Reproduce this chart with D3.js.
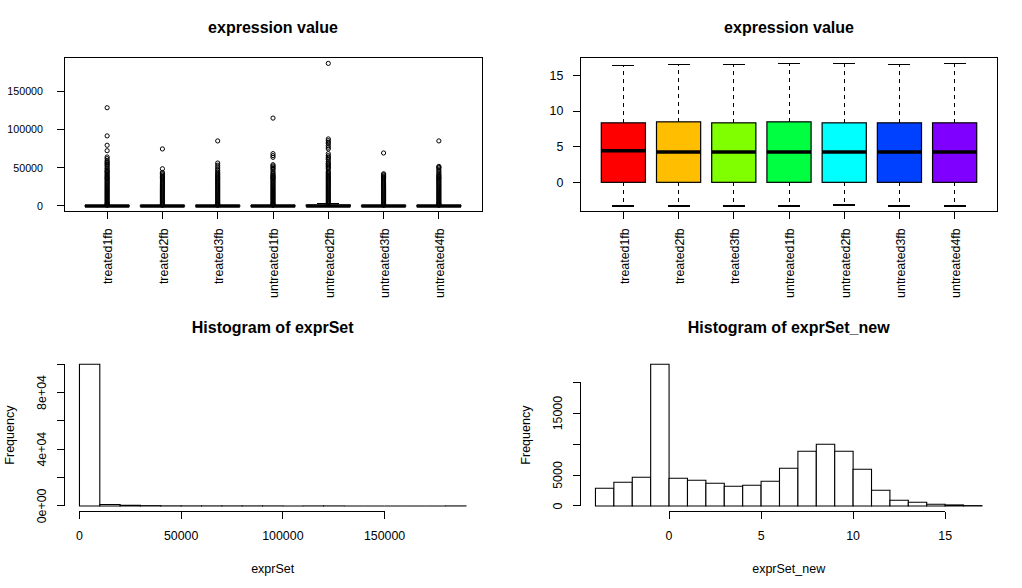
<!DOCTYPE html>
<html><head><meta charset="utf-8">
<script src="https://cdn.jsdelivr.net/npm/d3@7"></script>
<style>
body{margin:0;background:#fff}
svg{display:block}
text{font-family:"Liberation Sans",Arial,Helvetica,sans-serif;fill:#000}
</style>
</head><body>
<svg id="c" width="1022" height="588"></svg>
<script>
// ---------------- data ----------------
const sampleNames = ["treated1fb","treated2fb","treated3fb","untreated1fb","untreated2fb","untreated3fb","untreated4fb"];
const boxColors = ["#FF0000","#FFBF00","#80FF00","#00FF40","#00FFFF","#0040FF","#8000FF"];

// raw expression boxplot statistics
const rawLower  = [0.1, 0.1, 0.1, 0.1, 0.1, 0.1, 0.1];
const rawQ1     = [1, 1, 1, 1, 1.2, 1, 1];
const rawMedian = [19, 18, 18, 18, 20, 18, 18];
const rawQ3     = [330, 320, 325, 330, 1100, 320, 325];
const rawUpper  = [820, 800, 810, 820, 2750, 800, 810];
// dense outlier column shared by all samples
const rawDenseOutliers = [3000, 4300, 5600, 7000, 8300, 9700, 11000, 12400, 13700, 15100, 16400, 17800, 19100, 20500, 21800, 23200, 24500, 25900, 27200, 28600, 29900, 31300, 32600, 34000, 35300, 36400];
// additional outliers read per sample
const rawExtraOutliers = [
  [950, 1700, 2400, 37300, 38700, 40000, 41500, 43000, 44400, 45300, 46600, 48400, 49800, 51900, 53500, 55000, 56300, 57800, 59400, 62000, 64200, 72500, 79600, 91900, 128800],
  [950, 1700, 2400, 37200, 38300, 39500, 40900, 42500, 44000, 48800, 74800],
  [950, 1700, 2400, 37300, 38700, 40200, 41500, 43000, 44500, 46600, 48500, 51000, 53500, 56300, 85300],
  [950, 1700, 2400, 37200, 38200, 39400, 40500, 42000, 43500, 45500, 47900, 49500, 51000, 52500, 54100, 63800, 66000, 68600, 115200],
  [37300, 38700, 40000, 41400, 42800, 44100, 45500, 48500, 49800, 51200, 52600, 54000, 55400, 56300, 58500, 60800, 62500, 64200, 66000, 68600, 74800, 77000, 79100, 81800, 83500, 85600, 87900, 186900],
  [950, 1700, 2400, 37200, 38500, 39600, 41000, 42200, 69500],
  [950, 1700, 2400, 37300, 38700, 40000, 41500, 43500, 45500, 47500, 49700, 50800, 51900, 85300]
];

// log-transformed boxplot statistics
const logLower  = [-3.32, -3.32, -3.32, -3.32, -3.18, -3.32, -3.32];
const logQ1     = [0, 0, 0, 0, 0, 0, 0];
const logMedian = [4.43, 4.24, 4.24, 4.24, 4.24, 4.24, 4.24];
const logQ3     = [8.35, 8.49, 8.35, 8.49, 8.35, 8.35, 8.35];
const logUpper  = [16.45, 16.55, 16.55, 16.69, 16.69, 16.55, 16.69];

// histogram of exprSet
const histRawBreaks = [0, 10000, 20000, 30000, 40000, 50000, 60000, 70000, 80000, 90000, 100000, 110000, 120000, 130000, 140000, 150000, 160000, 170000, 180000, 190000];
const histRawCounts = [99900, 1000, 450, 200, 40, 15, 8, 5, 3, 2, 0, 1, 1, 0, 0, 0, 0, 0, 1];
// histogram of exprSet_new
const histLogBreaks = [-4, -3, -2, -1, 0, 1, 2, 3, 4, 5, 6, 7, 8, 9, 10, 11, 12, 13, 14, 15, 16, 17];
const histLogCounts = [2850, 3820, 4630, 22900, 4470, 4150, 3660, 3180, 3340, 3990, 6090, 8830, 9960, 8830, 5920, 2530, 915, 590, 270, 160, 50];

// tick values / labels
const rawYTicks = [0, 50000, 100000, 150000];
const logYTicks = [0, 5, 10, 15];
const histRawXTicks = [0, 50000, 100000, 150000];
const histRawYTicks = [0, 20000, 40000, 60000, 80000, 100000];
const histRawYLabels = ["0e+00", "", "4e+04", "", "8e+04", ""];
const histLogXTicks = [0, 5, 10, 15];
const histLogYTicks = [0, 5000, 10000, 15000, 20000];
const histLogYLabels = ["0", "5000", "", "15000", ""];

const titles = ["expression value", "expression value", "Histogram of exprSet", "Histogram of exprSet_new"];
const xTitles = ["exprSet", "exprSet_new"];
const yTitle = "Frequency";

// ---------------- drawing ----------------
const svg = d3.select("#c");
const ext = (a, b) => { const r = b - a; return [a - 0.04 * r, b + 0.04 * r]; };
const TICK = 7;

function drawBoxPanel(reg, stats, outliers, fills, yTicks, yLabelSize, yLabelGap, title) {
  const g = svg.append("g");
  const n = sampleNames.length;
  const x = d3.scaleLinear().domain(ext(0.5, n + 0.5)).range([reg.x0, reg.x1]);
  const allVals = stats.lower.concat(stats.upper, outliers.flat());
  const y = d3.scaleLinear().domain(ext(d3.min(allVals), d3.max(allVals))).range([reg.y1, reg.y0]);
  const half = 0.4, sh = 0.2;
  sampleNames.forEach((s, i) => {
    const at = i + 1;
    // whiskers
    g.append("line").attr("x1", x(at)).attr("x2", x(at)).attr("y1", y(stats.q1[i])).attr("y2", y(stats.lower[i]))
      .attr("stroke", "#000").attr("stroke-dasharray", "4,4").attr("stroke-width", 1).attr("shape-rendering", "crispEdges");
    g.append("line").attr("x1", x(at)).attr("x2", x(at)).attr("y1", y(stats.q3[i])).attr("y2", y(stats.upper[i]))
      .attr("stroke", "#000").attr("stroke-dasharray", "4,4").attr("stroke-width", 1).attr("shape-rendering", "crispEdges");
    // staples
    [stats.lower[i], stats.upper[i]].forEach(v => {
      g.append("line").attr("x1", x(at - sh)).attr("x2", x(at + sh)).attr("y1", y(v)).attr("y2", y(v))
        .attr("stroke", "#000").attr("stroke-width", 1.2).attr("shape-rendering", "crispEdges");
    });
    // box
    g.append("rect").attr("x", x(at - half)).attr("width", x(at + half) - x(at - half))
      .attr("y", y(stats.q3[i])).attr("height", Math.max(0.01, y(stats.q1[i]) - y(stats.q3[i])))
      .attr("fill", fills ? fills[i] : "none").attr("stroke", "#000").attr("stroke-width", 1.2);
    // median
    g.append("line").attr("x1", x(at - half)).attr("x2", x(at + half)).attr("y1", y(stats.median[i])).attr("y2", y(stats.median[i]))
      .attr("stroke", "#000").attr("stroke-width", 3.5);
    // outliers
    g.selectAll(null).data(outliers[i]).enter().append("circle")
      .attr("cx", x(at)).attr("cy", d => y(d)).attr("r", 2.1)
      .attr("fill", "none").attr("stroke", "#000").attr("stroke-width", 1);
  });
  // frame
  g.append("rect").attr("x", reg.x0).attr("y", reg.y0).attr("width", reg.x1 - reg.x0).attr("height", reg.y1 - reg.y0)
    .attr("fill", "none").attr("stroke", "#000").attr("stroke-width", 1).attr("shape-rendering", "crispEdges");
  // y axis ticks + labels
  yTicks.forEach(t => {
    g.append("line").attr("x1", reg.x0 - TICK).attr("x2", reg.x0).attr("y1", y(t)).attr("y2", y(t))
      .attr("stroke", "#000").attr("shape-rendering", "crispEdges");
    g.append("text").attr("x", reg.x0 - yLabelGap).attr("y", y(t)).attr("dy", "0.35em")
      .attr("text-anchor", "end").attr("font-size", yLabelSize).text(t);
  });
  // x ticks + rotated labels
  sampleNames.forEach((s, i) => {
    const xx = x(i + 1);
    g.append("line").attr("x1", xx).attr("x2", xx).attr("y1", reg.y1).attr("y2", reg.y1 + TICK)
      .attr("stroke", "#000").attr("shape-rendering", "crispEdges");
    g.append("text").attr("transform", `translate(${xx + 1},${reg.y1 + 16.6}) rotate(-90)`)
      .attr("dy", "0.35em").attr("text-anchor", "end").attr("font-size", 12.4).text(s);
  });
  g.append("text").attr("x", (reg.x0 + reg.x1) / 2).attr("y", 32.5).attr("text-anchor", "middle")
    .attr("font-size", 16).attr("font-weight", "bold").text(title);
}

function drawHist(reg, breaks, counts, xTicks, yTicks, yLabels, title, xTitle) {
  const g = svg.append("g");
  const x = d3.scaleLinear().domain(ext(breaks[0], breaks[breaks.length - 1])).range([reg.x0, reg.x1]);
  const y = d3.scaleLinear().domain(ext(0, d3.max(counts))).range([reg.y1, reg.y0]);
  counts.forEach((c, i) => {
    const xa = x(breaks[i]), xb = x(breaks[i + 1]), y0 = y(0), yc = y(c);
    g.append("path").attr("d", `M${xa},${y0}V${yc}H${xb}V${y0}Z`)
      .attr("fill", "#fff").attr("stroke", "#000").attr("stroke-width", 1.1);
  });
  // x axis
  g.append("line").attr("x1", x(xTicks[0])).attr("x2", x(xTicks[xTicks.length - 1])).attr("y1", reg.y1).attr("y2", reg.y1)
    .attr("stroke", "#000").attr("shape-rendering", "crispEdges");
  xTicks.forEach(t => {
    g.append("line").attr("x1", x(t)).attr("x2", x(t)).attr("y1", reg.y1).attr("y2", reg.y1 + TICK)
      .attr("stroke", "#000").attr("shape-rendering", "crispEdges");
    g.append("text").attr("x", x(t)).attr("y", 540).attr("text-anchor", "middle").attr("font-size", 12.4).text(t);
  });
  // y axis
  g.append("line").attr("x1", reg.x0).attr("x2", reg.x0).attr("y1", y(yTicks[0])).attr("y2", y(yTicks[yTicks.length - 1]))
    .attr("stroke", "#000").attr("shape-rendering", "crispEdges");
  yTicks.forEach((t, i) => {
    g.append("line").attr("x1", reg.x0 - TICK).attr("x2", reg.x0).attr("y1", y(t)).attr("y2", y(t))
      .attr("stroke", "#000").attr("shape-rendering", "crispEdges");
    if (yLabels[i]) {
      g.append("text").attr("transform", `translate(${reg.x0 - 18},${y(t)}) rotate(-90)`)
        .attr("text-anchor", "middle").attr("font-size", 12.4).text(yLabels[i]);
    }
  });
  g.append("text").attr("x", (reg.x0 + reg.x1) / 2).attr("y", 573).attr("text-anchor", "middle").attr("font-size", 12.5).text(xTitle);
  g.append("text").attr("transform", `translate(${reg.x0 - 50.5},${(reg.y0 + reg.y1) / 2}) rotate(-90)`)
    .attr("text-anchor", "middle").attr("font-size", 12.5).text(yTitle);
  g.append("text").attr("x", (reg.x0 + reg.x1) / 2).attr("y", 332.5).attr("text-anchor", "middle")
    .attr("font-size", 16).attr("font-weight", "bold").text(title);
}

const TL = {x0: 64, x1: 482, y0: 57.7, y1: 211.7};
const TR = {x0: 580.3, x1: 997.7, y0: 57.7, y1: 211.7};
const BL = {x0: 64, x1: 481.4, y0: 358.6, y1: 511.6};
const BR = {x0: 580, x1: 997.4, y0: 358.6, y1: 511.6};

const rawOutliers = rawExtraOutliers.map(a => rawDenseOutliers.concat(a));
drawBoxPanel(TL, {lower: rawLower, q1: rawQ1, median: rawMedian, q3: rawQ3, upper: rawUpper},
  rawOutliers, null, rawYTicks, 10.7, 21, titles[0]);
drawBoxPanel(TR, {lower: logLower, q1: logQ1, median: logMedian, q3: logQ3, upper: logUpper},
  sampleNames.map(() => []), boxColors, logYTicks, 12.4, 17, titles[1]);
drawHist(BL, histRawBreaks, histRawCounts, histRawXTicks, histRawYTicks, histRawYLabels, titles[2], xTitles[0]);
drawHist(BR, histLogBreaks, histLogCounts, histLogXTicks, histLogYTicks, histLogYLabels, titles[3], xTitles[1]);
</script>
</body></html>
